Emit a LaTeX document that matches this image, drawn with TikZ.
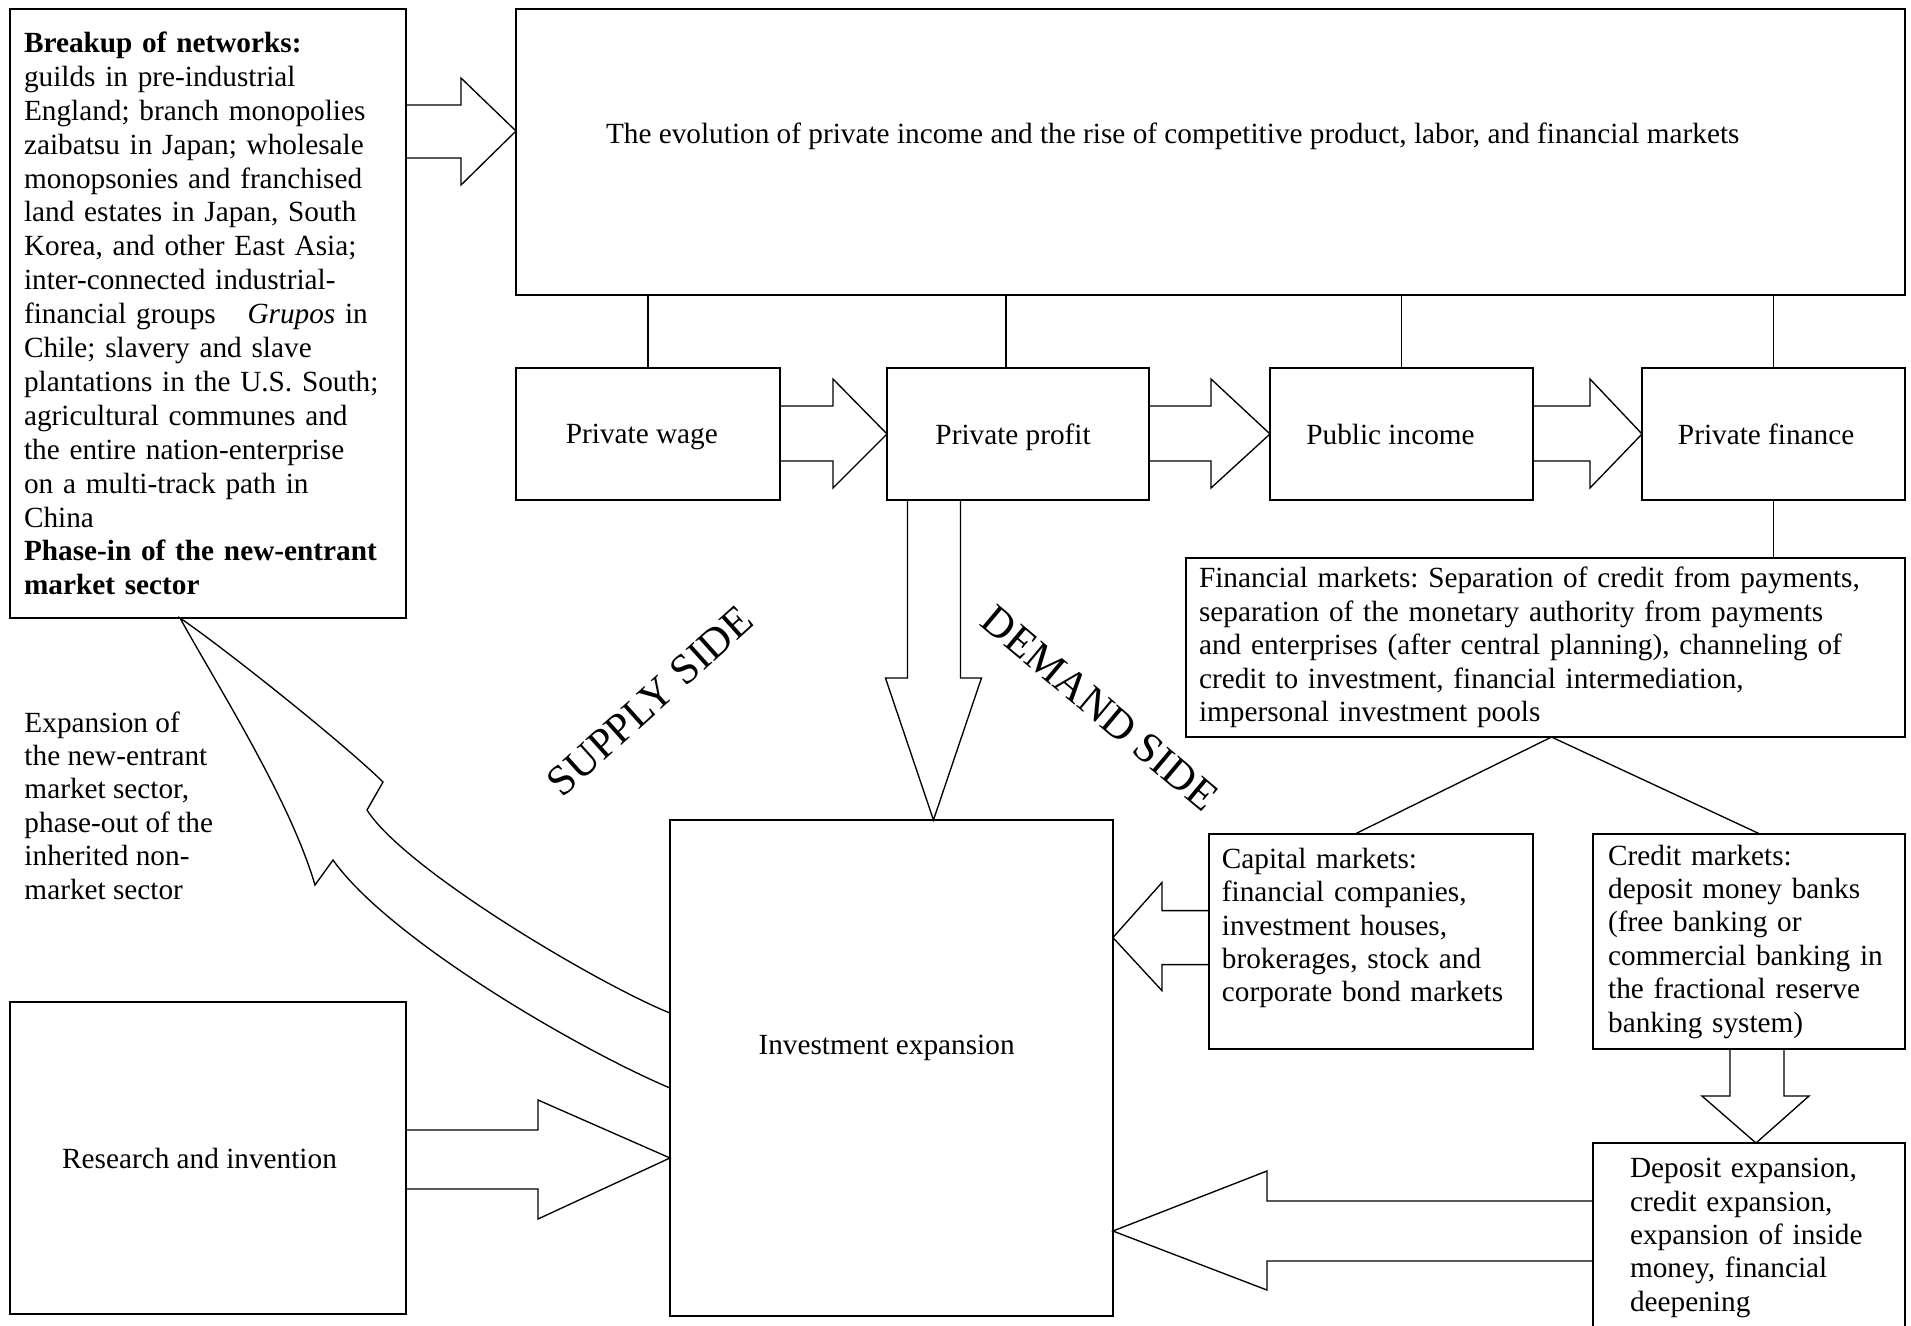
\documentclass[tikz,border=0pt]{standalone}
\usepackage{fontspec}
\setmainfont{Liberation Serif}
\usetikzlibrary{calc}
\frenchspacing

\begin{document}
\begin{tikzpicture}[
            x=0.41pt, y=-0.41pt, % one unit per pixel, y runs downwards
            every node/.style={font=\fontsize{12}{13.7}\selectfont},
            box/.style={draw, line width=0.8pt, inner sep=0pt, outer sep=0pt, anchor=north west}, % Plain rectangle
            textbox/.style={box, align=left, inner xsep=#1}, % Left aligned text in a rectangle
            rowbox/.style={box, minimum height=54.1pt, text depth=0pt}, % Boxes of the income row
            fatarrow/.style={draw, line width=0.55pt, line join=miter}, % Outline of a block arrow
            link/.style={draw, line width=0.55pt},
            side/.style={font=\fontsize{17.5}{20}\selectfont}
            ]

                \path[use as bounding box, fill=white] (0,0) rectangle (1911,1325);

                % Top row
                \node[textbox=5.7pt, text width=150.9pt, minimum width=162.4pt, minimum height=249.7pt,
                      font=\fontsize{12}{13.9}\selectfont] (breakup) at (10,9)
                    {\textbf{Breakup of networks:}\\
                     guilds in pre-industrial\\
                     England; branch monopolies\\
                     zaibatsu in Japan; wholesale\\
                     monopsonies and franchised\\
                     land estates in Japan, South\\
                     Korea, and other East Asia;\\
                     inter-connected industrial-\\
                     financial groups\hspace{9pt} \textit{Grupos} in\\
                     Chile; slavery and slave\\
                     plantations in the U.S. South;\\
                     agricultural communes and\\
                     the entire nation-enterprise\\
                     on a multi-track path in\\
                     China\\
                     \textbf{Phase-in of the new-entrant}\\
                     \textbf{market sector}};
                \node[box, minimum width=569.5pt, minimum height=117.3pt, text depth=15.8pt] (evol) at (516,9)
                    {The evolution of private income and the rise of competitive product, labor, and financial markets\kern31pt};

                % Income row
                \node[rowbox, minimum width=108.2pt] (wage) at (516,368) {Private wage\kern5pt};
                \node[rowbox, minimum width=107.4pt] (profit) at (887,368) {Private profit\kern4pt};
                \node[rowbox, minimum width=107.8pt] (public) at (1270,368) {Public income\kern9pt};
                \node[rowbox, minimum width=107.8pt] (finance) at (1642,368) {Private finance\kern6pt};

                % Markets
                \node[textbox=5.3pt, text width=284.1pt, minimum width=294.8pt, minimum height=73.4pt] (finmkt) at (1186,558)
                    {Financial markets: Separation of credit from payments,\\
                     separation of the monetary authority from payments\\
                     and enterprises (after central planning), channeling of\\
                     credit to investment, financial intermediation,\\
                     impersonal investment pools};
                \node[textbox=5.3pt, text width=122.2pt, minimum width=132.8pt, minimum height=88.2pt] (capital) at (1209,834)
                    {Capital markets:\\ financial companies,\\ investment houses,\\ brokerages, stock and\\ corporate bond markets\\ \mbox{}};
                \node[textbox=6.2pt, text width=115.5pt, minimum width=127.9pt, minimum height=88.2pt] (credit) at (1593,834)
                    {Credit markets:\\ deposit money banks\\ (free banking or\\ commercial banking in\\ the fractional reserve\\ banking system)};
                \node[textbox=15.2pt, text width=97.5pt, minimum width=127.9pt, minimum height=77.9pt] (deposit) at (1593,1143)
                    {Deposit expansion,\\ credit expansion,\\ expansion of inside\\ money, financial\\ deepening};

                % Bottom row
                \node[box, minimum width=181.6pt, minimum height=203.4pt, text depth=19pt] (invest) at (670,820) {Investment expansion\kern4pt};
                \node[box, minimum width=162.4pt, minimum height=127.9pt] (research) at (10,1002) {Research and invention\kern7pt};

                % Free text
                \node[anchor=north west, inner sep=0pt, align=left] (expansion) at (24,711)
                    {Expansion of\\ the new-entrant\\ market sector,\\ phase-out of the\\ inherited non-\\ market sector};
                \node[side, rotate=42] (supply) at (650,701) {SUPPLY SIDE};
                \node[side, rotate=-40] (demand) at (1100,708) {DEMAND SIDE};

                % Plain links
                \draw[link] (wage.north) -- (wage.north |- evol.south);
                \draw[link] ($(profit.north)+(-12,0)$) -- ($(profit.north |- evol.south)+(-12,0)$);
                \draw[link] (public.north) -- (public.north |- evol.south);
                \draw[link] (finance.north) -- (finance.north |- evol.south);
                \draw[link] (finance.south) -- (finance.south |- finmkt.north);
                \draw[link] ($(capital.north)+(-16,0)$) -- ($(finmkt.south)+(6,0)$) -- ($(credit.north)+(11,0)$);

                % Block arrows, each built around its tip
                \coordinate (tipA) at ($(evol.north west)+(0,122)$);
                \draw[fatarrow] ($(breakup.east |- tipA)+(0,-26)$) -- ($(tipA)+(-55,-26)$) -- ($(tipA)+(-55,-53)$) -- (tipA)
                    -- ($(tipA)+(-55,54)$) -- ($(tipA)+(-55,27)$) -- ($(breakup.east |- tipA)+(0,27)$);

                \draw[fatarrow] ($(wage.east)+(0,-28)$) -- ($(profit.west)+(-54,-28)$) -- ($(profit.west)+(-54,-55)$) -- (profit.west)
                    -- ($(profit.west)+(-54,54)$) -- ($(profit.west)+(-54,27)$) -- ($(wage.east)+(0,27)$);
                \draw[fatarrow] ($(profit.east)+(0,-28)$) -- ($(public.west)+(-59,-28)$) -- ($(public.west)+(-59,-55)$) -- (public.west)
                    -- ($(public.west)+(-59,54)$) -- ($(public.west)+(-59,27)$) -- ($(profit.east)+(0,27)$);
                \draw[fatarrow] ($(public.east)+(0,-28)$) -- ($(finance.west)+(-52,-28)$) -- ($(finance.west)+(-52,-55)$) -- (finance.west)
                    -- ($(finance.west)+(-52,54)$) -- ($(finance.west)+(-52,27)$) -- ($(public.east)+(0,27)$);

                \coordinate (tipB) at ($(invest.north)+(42,0)$);
                \draw[fatarrow] ($(tipB |- profit.south)+(-26,0)$) -- ($(tipB)+(-26,-142)$) -- ($(tipB)+(-48,-142)$) -- (tipB)
                    -- ($(tipB)+(48,-142)$) -- ($(tipB)+(27,-142)$) -- ($(tipB |- profit.south)+(27,0)$);

                \coordinate (tipC) at (invest.west |- research.east);
                \draw[fatarrow] ($(research.east)+(0,-28)$) -- ($(tipC)+(-132,-28)$) -- ($(tipC)+(-132,-58)$) -- (tipC)
                    -- ($(tipC)+(-132,61)$) -- ($(tipC)+(-132,31)$) -- ($(research.east)+(0,31)$);

                \coordinate (tipD) at ($(invest.east |- capital.west)+(0,-4)$);
                \draw[fatarrow] ($(capital.west |- tipD)+(0,-27)$) -- ($(tipD)+(49,-27)$) -- ($(tipD)+(49,-55)$) -- (tipD)
                    -- ($(tipD)+(49,53)$) -- ($(tipD)+(49,27)$) -- ($(capital.west |- tipD)+(0,27)$);

                \coordinate (tipE) at ($(invest.east |- deposit.west)+(0,-7)$);
                \draw[fatarrow] ($(deposit.west |- tipE)+(0,-30)$) -- ($(tipE)+(154,-30)$) -- ($(tipE)+(154,-60)$) -- (tipE)
                    -- ($(tipE)+(154,59)$) -- ($(tipE)+(154,30)$) -- ($(deposit.west |- tipE)+(0,30)$);

                \coordinate (tipF) at ($(deposit.north)+(7,0)$);
                \draw[fatarrow] ($(tipF |- credit.south)+(-26,0)$) -- ($(tipF)+(-26,-47)$) -- ($(tipF)+(-54,-47)$) -- (tipF)
                    -- ($(tipF)+(53,-47)$) -- ($(tipF)+(28,-47)$) -- ($(tipF |- credit.south)+(28,0)$);

                % Curved arrow back to the networks box
                \coordinate (tipG) at ($(breakup.south west)+(170,0)$);
                \coordinate (outG) at ($(invest.north west)+(0,268)$);
                \coordinate (inG) at ($(invest.north west)+(0,193)$);
                \draw[fatarrow] (outG) .. controls (580,1050) and (390,940) .. (333,860) -- (315,885)
                    .. controls (290,800) and (220,690) .. (tipG)
                    .. controls (220,645) and (340,740) .. (383,782) -- (367,810)
                    .. controls (405,870) and (600,985) .. (inG);

            \end{tikzpicture}
\end{document}
